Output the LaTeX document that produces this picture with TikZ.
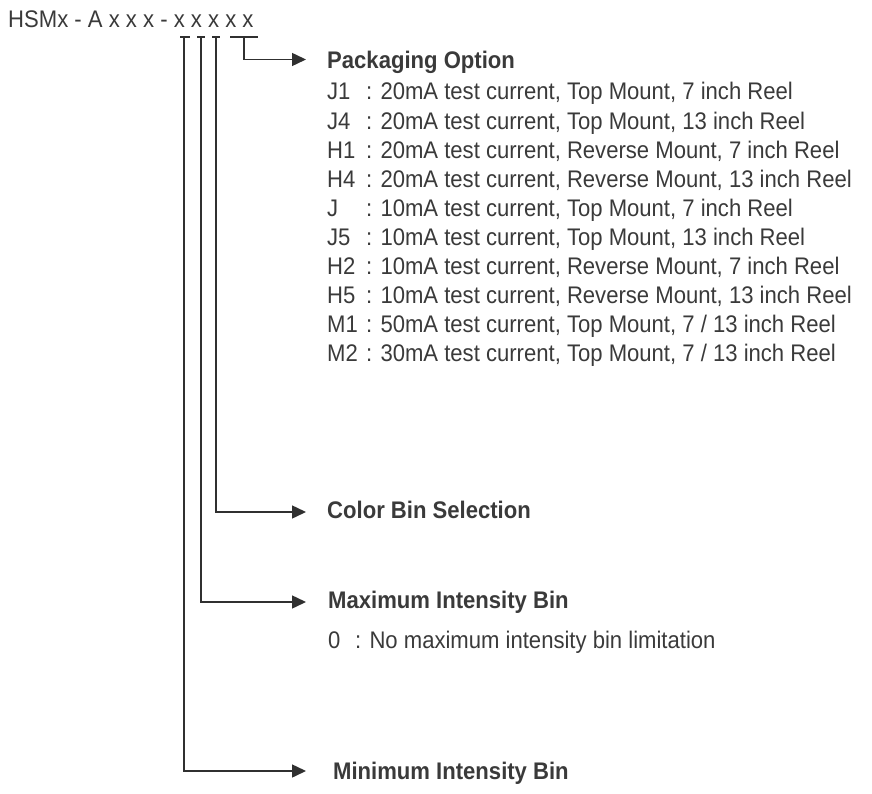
\documentclass[tikz,border=0pt]{standalone}
\usepackage{fontspec}
\setmainfont{Liberation Sans}[FakeStretch=0.92]
\usetikzlibrary{arrows.meta}
\definecolor{txt}{HTML}{3A3A3A}
\definecolor{ln}{HTML}{303030}
\tikzset{
  lbl/.style={inner sep=0pt, anchor=base west, text=txt, font=\fontsize{24}{24}\selectfont},
  headlbl/.style={lbl, font=\fontsize{24}{24}\selectfont\bfseries},
  bar/.style={draw=ln, line width=1.5pt},
  conn/.style={draw=ln, line width=1.5pt, -{Triangle[length=14pt,width=13pt]}}
}
\begin{document}
\begin{tikzpicture}[x=1pt,y=-1pt]
\useasboundingbox (0,0) rectangle (872,794);
\node[lbl] (code) at (8,28) {HSMx - A x x x - x x x x x};
% bars under the characters
\coordinate (b1l) at (180,37); \coordinate (b1r) at (190,37);
\coordinate (b2l) at (197,37); \coordinate (b2r) at (205,37);
\coordinate (b3l) at (212,37); \coordinate (b3r) at (220,37);
\coordinate (b4l) at (230,37); \coordinate (b4r) at (258,37);
\draw[bar] (b1l) -- (b1r); \draw[bar] (b2l) -- (b2r);
\draw[bar] (b3l) -- (b3r); \draw[bar] (b4l) -- (b4r);
\coordinate (v1) at (184,37); \coordinate (v2) at (201,37);
\coordinate (v3) at (216,37); \coordinate (v4) at (244,37);
% arrow tips
\coordinate (t4) at (306,59.5);
\coordinate (t3) at (306,512);
\coordinate (t2) at (306,602);
\coordinate (t1) at (306,771);
\draw[conn] (v4) |- (t4);
\draw[conn] (v3) |- (t3);
\draw[conn] (v2) |- (t2);
\draw[conn] (v1) |- (t1);
% headings
\node[headlbl] (pack) at (327,69) {Packaging Option};
\node[headlbl] (color) at (327,518) {Color Bin Selection};
\node[headlbl] (maxb) at (328,608) {Maximum Intensity Bin};
\node[headlbl] (minb) at (333,779) {Minimum Intensity Bin};
% packaging items
\foreach \i/\c/\d in {
 0/J1/{20mA test current, Top Mount, 7 inch Reel},
 1/J4/{20mA test current, Top Mount, 13 inch Reel},
 2/H1/{20mA test current, Reverse Mount, 7 inch Reel},
 3/H4/{20mA test current, Reverse Mount, 13 inch Reel},
 4/J/{10mA test current, Top Mount, 7 inch Reel},
 5/J5/{10mA test current, Top Mount, 13 inch Reel},
 6/H2/{10mA test current, Reverse Mount, 7 inch Reel},
 7/H5/{10mA test current, Reverse Mount, 13 inch Reel},
 8/M1/{50mA test current, Top Mount, 7 / 13 inch Reel},
 9/M2/{30mA test current, Top Mount, 7 / 13 inch Reel}}{
  \node[lbl] (pc\i) at (327,100+29.1*\i) {\c};
  \node[lbl] (pd\i) at (366,100+29.1*\i) {: \d};
}
\node[lbl] (m0) at (328,648) {0};
\node[lbl] (m0d) at (355,648) {: No maximum intensity bin limitation};
\end{tikzpicture}
\end{document}
